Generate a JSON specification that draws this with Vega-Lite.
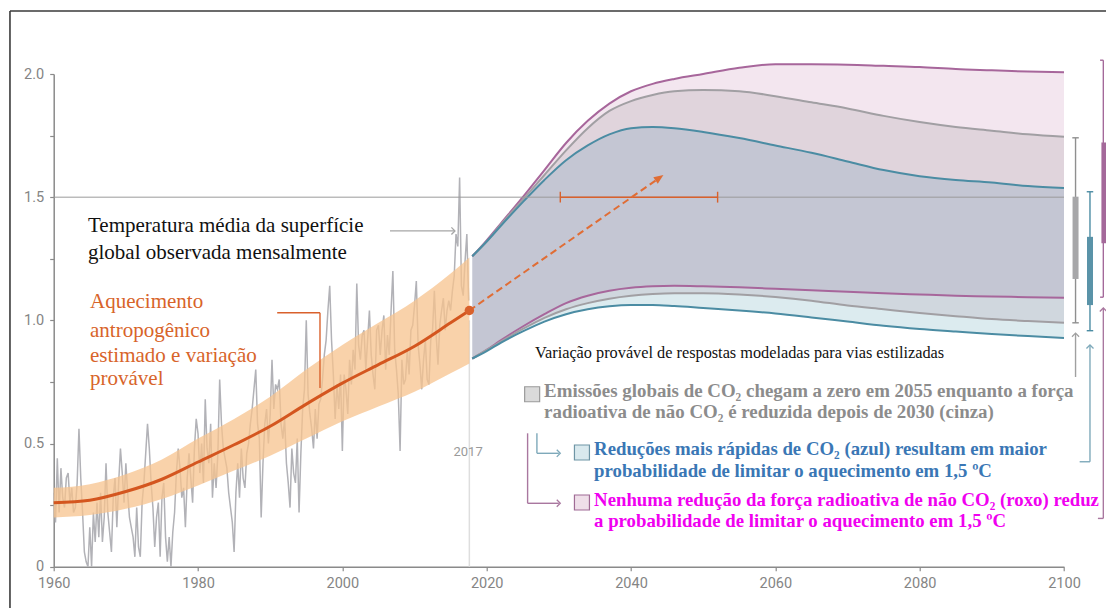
{
"$schema": "https://vega.github.io/schema/vega-lite/v6.json",
"width": 1010.3,
"height": 492.7,
"autosize": {"type": "none"},
"padding": {"left": 53.7, "top": 74, "right": 42, "bottom": 41.3},
"background": "white",
"config": {"view": {"stroke": null}},
"resolve": {"scale": {"color": "independent", "fill": "independent", "stroke": "independent", "shape": "independent"}},
"datasets": {
"obs": [
{"t":1960,"v":0.30},{"t":1960.25,"v":0.18},{"t":1960.5,"v":0.44},{"t":1960.75,"v":0.22},
{"t":1961,"v":0.40},{"t":1961.25,"v":0.28},{"t":1961.5,"v":0.24},{"t":1961.75,"v":0.36},
{"t":1962,"v":0.38},{"t":1962.25,"v":0.26},{"t":1962.5,"v":0.32},{"t":1962.75,"v":0.22},
{"t":1963,"v":0.24},{"t":1963.25,"v":0.34},{"t":1963.5,"v":0.56},{"t":1963.75,"v":0.36},
{"t":1964,"v":0.22},{"t":1964.25,"v":0.06},{"t":1964.5,"v":0.02},{"t":1964.75,"v":0.00},
{"t":1965,"v":0.16},{"t":1965.25,"v":0.00},{"t":1965.5,"v":0.22},{"t":1965.75,"v":0.10},
{"t":1966,"v":0.26},{"t":1966.25,"v":0.12},{"t":1966.5,"v":0.30},{"t":1966.75,"v":0.10},
{"t":1967,"v":0.20},{"t":1967.25,"v":0.42},{"t":1967.5,"v":0.22},{"t":1967.75,"v":0.14},
{"t":1968,"v":0.06},{"t":1968.25,"v":0.28},{"t":1968.5,"v":0.36},{"t":1968.75,"v":0.16},
{"t":1969,"v":0.34},{"t":1969.25,"v":0.48},{"t":1969.5,"v":0.38},{"t":1969.75,"v":0.26},
{"t":1970,"v":0.42},{"t":1970.25,"v":0.30},{"t":1970.5,"v":0.20},{"t":1970.75,"v":0.16},
{"t":1971,"v":0.12},{"t":1971.25,"v":0.04},{"t":1971.5,"v":0.24},{"t":1971.75,"v":0.08},
{"t":1972,"v":0.04},{"t":1972.25,"v":0.26},{"t":1972.5,"v":0.34},{"t":1972.75,"v":0.46},
{"t":1973,"v":0.58},{"t":1973.25,"v":0.48},{"t":1973.5,"v":0.34},{"t":1973.75,"v":0.24},
{"t":1974,"v":0.08},{"t":1974.25,"v":0.20},{"t":1974.5,"v":0.26},{"t":1974.75,"v":0.04},
{"t":1975,"v":0.28},{"t":1975.25,"v":0.34},{"t":1975.5,"v":0.12},{"t":1975.75,"v":0.02},
{"t":1976,"v":0.12},{"t":1976.25,"v":0.00},{"t":1976.5,"v":0.14},{"t":1976.75,"v":0.22},
{"t":1977,"v":0.38},{"t":1977.25,"v":0.48},{"t":1977.5,"v":0.40},{"t":1977.75,"v":0.28},
{"t":1978,"v":0.32},{"t":1978.25,"v":0.16},{"t":1978.5,"v":0.36},{"t":1978.75,"v":0.46},
{"t":1979,"v":0.36},{"t":1979.25,"v":0.26},{"t":1979.5,"v":0.48},{"t":1979.75,"v":0.60},
{"t":1980,"v":0.54},{"t":1980.25,"v":0.38},{"t":1980.5,"v":0.50},{"t":1980.75,"v":0.34},
{"t":1981,"v":0.68},{"t":1981.25,"v":0.48},{"t":1981.5,"v":0.42},{"t":1981.75,"v":0.58},
{"t":1982,"v":0.28},{"t":1982.25,"v":0.42},{"t":1982.5,"v":0.32},{"t":1982.75,"v":0.46},
{"t":1983,"v":0.76},{"t":1983.25,"v":0.58},{"t":1983.5,"v":0.48},{"t":1983.75,"v":0.44},
{"t":1984,"v":0.40},{"t":1984.25,"v":0.30},{"t":1984.5,"v":0.24},{"t":1984.75,"v":0.18},
{"t":1985,"v":0.06},{"t":1985.25,"v":0.30},{"t":1985.5,"v":0.42},{"t":1985.75,"v":0.28},
{"t":1986,"v":0.48},{"t":1986.25,"v":0.36},{"t":1986.5,"v":0.32},{"t":1986.75,"v":0.46},
{"t":1987,"v":0.50},{"t":1987.25,"v":0.58},{"t":1987.5,"v":0.64},{"t":1987.75,"v":0.72},
{"t":1988,"v":0.80},{"t":1988.25,"v":0.58},{"t":1988.5,"v":0.52},{"t":1988.75,"v":0.20},
{"t":1989,"v":0.42},{"t":1989.25,"v":0.58},{"t":1989.5,"v":0.64},{"t":1989.75,"v":0.50},
{"t":1990,"v":0.62},{"t":1990.25,"v":0.84},{"t":1990.5,"v":0.64},{"t":1990.75,"v":0.74},
{"t":1991,"v":0.72},{"t":1991.25,"v":0.76},{"t":1991.5,"v":0.58},{"t":1991.75,"v":0.52},
{"t":1992,"v":0.60},{"t":1992.25,"v":0.42},{"t":1992.5,"v":0.34},{"t":1992.75,"v":0.24},
{"t":1993,"v":0.48},{"t":1993.25,"v":0.38},{"t":1993.5,"v":0.34},{"t":1993.75,"v":0.52},
{"t":1994,"v":0.22},{"t":1994.25,"v":0.46},{"t":1994.5,"v":0.64},{"t":1994.75,"v":0.72},
{"t":1995,"v":1.00},{"t":1995.25,"v":0.70},{"t":1995.5,"v":0.62},{"t":1995.75,"v":0.56},
{"t":1996,"v":0.48},{"t":1996.25,"v":0.64},{"t":1996.5,"v":0.52},{"t":1996.75,"v":0.66},
{"t":1997,"v":0.68},{"t":1997.25,"v":0.76},{"t":1997.5,"v":0.86},{"t":1997.75,"v":0.92},
{"t":1998,"v":1.04},{"t":1998.25,"v":1.14},{"t":1998.5,"v":0.92},{"t":1998.75,"v":0.78},
{"t":1999,"v":0.60},{"t":1999.25,"v":0.74},{"t":1999.5,"v":0.64},{"t":1999.75,"v":0.78},
{"t":2000,"v":0.47},{"t":2000.25,"v":0.78},{"t":2000.5,"v":0.72},{"t":2000.75,"v":0.62},
{"t":2001,"v":0.84},{"t":2001.25,"v":0.74},{"t":2001.5,"v":0.88},{"t":2001.75,"v":0.80},
{"t":2002,"v":1.15},{"t":2002.25,"v":0.90},{"t":2002.5,"v":0.84},{"t":2002.75,"v":0.94},
{"t":2003,"v":0.96},{"t":2003.25,"v":0.80},{"t":2003.5,"v":0.92},{"t":2003.75,"v":1.04},
{"t":2004,"v":0.86},{"t":2004.25,"v":0.78},{"t":2004.5,"v":0.72},{"t":2004.75,"v":0.96},
{"t":2005,"v":0.98},{"t":2005.25,"v":0.86},{"t":2005.5,"v":0.96},{"t":2005.75,"v":1.02},
{"t":2006,"v":0.80},{"t":2006.25,"v":0.94},{"t":2006.5,"v":0.86},{"t":2006.75,"v":1.04},
{"t":2007,"v":1.20},{"t":2007.25,"v":0.88},{"t":2007.5,"v":0.80},{"t":2007.75,"v":0.70},
{"t":2008,"v":0.47},{"t":2008.25,"v":0.84},{"t":2008.5,"v":0.74},{"t":2008.75,"v":0.76},
{"t":2009,"v":0.88},{"t":2009.25,"v":0.78},{"t":2009.5,"v":0.96},{"t":2009.75,"v":0.98},
{"t":2010,"v":1.06},{"t":2010.25,"v":1.16},{"t":2010.5,"v":0.90},{"t":2010.75,"v":0.82},
{"t":2011,"v":0.72},{"t":2011.25,"v":0.84},{"t":2011.5,"v":0.92},{"t":2011.75,"v":0.76},
{"t":2012,"v":0.74},{"t":2012.25,"v":0.92},{"t":2012.5,"v":0.96},{"t":2012.75,"v":1.12},
{"t":2013,"v":0.94},{"t":2013.25,"v":0.82},{"t":2013.5,"v":0.98},{"t":2013.75,"v":1.04},
{"t":2014,"v":1.09},{"t":2014.25,"v":0.96},{"t":2014.5,"v":1.04},{"t":2014.75,"v":1.08},
{"t":2015,"v":1.04},{"t":2015.25,"v":1.12},{"t":2015.5,"v":1.18},{"t":2015.75,"v":1.35},
{"t":2016,"v":1.30},{"t":2016.25,"v":1.58},{"t":2016.5,"v":1.14},{"t":2016.75,"v":1.10},
{"t":2017,"v":1.24},{"t":2017.25,"v":1.35},{"t":2017.5,"v":1.08}
],
"band": [
{"t":1960,"lo":0.20,"mid":0.26,"hi":0.32},
{"t":1965,"lo":0.21,"mid":0.27,"hi":0.335},
{"t":1970,"lo":0.235,"mid":0.305,"hi":0.375},
{"t":1975,"lo":0.275,"mid":0.355,"hi":0.435},
{"t":1980,"lo":0.33,"mid":0.425,"hi":0.52},
{"t":1985,"lo":0.39,"mid":0.495,"hi":0.60},
{"t":1990,"lo":0.45,"mid":0.57,"hi":0.69},
{"t":1995,"lo":0.52,"mid":0.66,"hi":0.80},
{"t":2000,"lo":0.59,"mid":0.745,"hi":0.90},
{"t":2005,"lo":0.65,"mid":0.82,"hi":0.99},
{"t":2010,"lo":0.71,"mid":0.895,"hi":1.08},
{"t":2015,"lo":0.785,"mid":0.99,"hi":1.19},
{"t":2017.6,"lo":0.825,"mid":1.04,"hi":1.255}
],
"proj": [
{"t":2018,"pu":1.26,"gu":1.26,"bu":1.26,"pl":0.845,"gl":0.845,"bl":0.845},
{"t":2020,"pu":1.325,"gu":1.32,"bu":1.32,"pl":0.88,"gl":0.88,"bl":0.875},
{"t":2022,"pu":1.395,"gu":1.39,"bu":1.385,"pl":0.92,"gl":0.915,"bl":0.91},
{"t":2025,"pu":1.50,"gu":1.49,"bu":1.48,"pl":0.975,"gl":0.965,"bl":0.955},
{"t":2028,"pu":1.61,"gu":1.59,"bu":1.57,"pl":1.025,"gl":1.01,"bl":0.995},
{"t":2031,"pu":1.72,"gu":1.69,"bu":1.65,"pl":1.07,"gl":1.045,"bl":1.025},
{"t":2034,"pu":1.81,"gu":1.78,"bu":1.71,"pl":1.10,"gl":1.07,"bl":1.045},
{"t":2037,"pu":1.88,"gu":1.85,"bu":1.755,"pl":1.12,"gl":1.088,"bl":1.057},
{"t":2040,"pu":1.93,"gu":1.89,"bu":1.78,"pl":1.132,"gl":1.10,"bl":1.062},
{"t":2043,"pu":1.96,"gu":1.915,"bu":1.785,"pl":1.138,"gl":1.107,"bl":1.062},
{"t":2046,"pu":1.98,"gu":1.93,"bu":1.78,"pl":1.14,"gl":1.11,"bl":1.058},
{"t":2050,"pu":2.0,"gu":1.935,"bu":1.765,"pl":1.138,"gl":1.11,"bl":1.05},
{"t":2055,"pu":2.025,"gu":1.93,"bu":1.74,"pl":1.134,"gl":1.105,"bl":1.04},
{"t":2060,"pu":2.04,"gu":1.91,"bu":1.71,"pl":1.128,"gl":1.095,"bl":1.028},
{"t":2065,"pu":2.04,"gu":1.885,"bu":1.68,"pl":1.122,"gl":1.08,"bl":1.012},
{"t":2070,"pu":2.038,"gu":1.86,"bu":1.645,"pl":1.116,"gl":1.06,"bl":0.995},
{"t":2075,"pu":2.033,"gu":1.83,"bu":1.61,"pl":1.11,"gl":1.045,"bl":0.978},
{"t":2080,"pu":2.028,"gu":1.805,"bu":1.585,"pl":1.105,"gl":1.03,"bl":0.965},
{"t":2085,"pu":2.02,"gu":1.785,"bu":1.57,"pl":1.10,"gl":1.017,"bl":0.955},
{"t":2090,"pu":2.015,"gu":1.77,"bu":1.56,"pl":1.097,"gl":1.005,"bl":0.945},
{"t":2095,"pu":2.01,"gu":1.755,"bu":1.545,"pl":1.094,"gl":0.997,"bl":0.936},
{"t":2100,"pu":2.007,"gu":1.745,"bu":1.537,"pl":1.092,"gl":0.99,"bl":0.928}
],
"seg": [
{"k":"gA","x":2006.6,"y":1.363,"x2":2015.5,"y2":1.363},
{"k":"gC","x":2101.6,"y":0.770,"x2":2101.6,"y2":0.945},
{"k":"bC","x":2026.96,"y":0.5415,"x2":2026.96,"y2":0.4603},
{"k":"bC","x":2026.96,"y":0.4603,"x2":2030.0,"y2":0.4603},
{"k":"bC","x":2103.6,"y":0.426,"x2":2103.6,"y2":0.897},
{"k":"bC","x":2102.17,"y":0.426,"x2":2103.6,"y2":0.426},
{"k":"pC","x":2025.67,"y":0.5415,"x2":2025.67,"y2":0.2574},
{"k":"pC","x":2025.67,"y":0.2574,"x2":2030.0,"y2":0.2574},
{"k":"pC","x":2105.45,"y":0.196,"x2":2105.45,"y2":1.047},
{"k":"pC","x":2104.7,"y":0.196,"x2":2105.45,"y2":0.196},
{"k":"or","x":1990.97,"y":1.031,"x2":1996.9,"y2":1.031},
{"k":"or","x":1996.9,"y":1.031,"x2":1996.9,"y2":0.725},
{"k":"or","x":2030.2,"y":1.5,"x2":2052.0,"y2":1.5},
{"k":"or","x":2030.2,"y":1.478,"x2":2030.2,"y2":1.522},
{"k":"or","x":2052.0,"y":1.478,"x2":2052.0,"y2":1.522},
{"k":"gW","x":2101.6,"y":0.99,"x2":2101.6,"y2":1.741},
{"k":"gW","x":2101.15,"y":0.99,"x2":2102.05,"y2":0.99},
{"k":"gW","x":2101.15,"y":1.741,"x2":2102.05,"y2":1.741},
{"k":"bW","x":2103.6,"y":0.958,"x2":2103.6,"y2":1.522},
{"k":"bW","x":2103.15,"y":0.958,"x2":2104.05,"y2":0.958},
{"k":"bW","x":2103.15,"y":1.522,"x2":2104.05,"y2":1.522},
{"k":"pW","x":2105.45,"y":1.094,"x2":2105.45,"y2":2.056},
{"k":"pW","x":2105.0,"y":1.094,"x2":2105.45,"y2":1.094},
{"k":"pW","x":2105.0,"y":2.056,"x2":2105.45,"y2":2.056}
],
"boxes": [
{"k":"g","x":2101.6,"y":1.168,"y2":1.502},
{"k":"b","x":2103.6,"y":1.062,"y2":1.339},
{"k":"p","x":2105.6,"y":1.313,"y2":1.722}
],
"heads": [
{"k":"gA","d":"right","x":2015.6,"y":1.363},
{"k":"gC","d":"up","x":2101.6,"y":0.948},
{"k":"bC","d":"up","x":2103.6,"y":0.900},
{"k":"pC","d":"up","x":2105.45,"y":1.050},
{"k":"bC","d":"right","x":2030.2,"y":0.4603},
{"k":"pC","d":"right","x":2030.2,"y":0.2574}
],
"sq": [
{"k":"g","x":2026.3,"y":0.70},
{"k":"b","x":2033.2,"y":0.4636},
{"k":"p","x":2033.2,"y":0.2606}
],
"ann": [
{"st":"blk","x":1964.75,"y":1.360,"txt":"Temperatura média da superfície"},
{"st":"blk","x":1964.75,"y":1.248,"txt":"global observada mensalmente"},
{"st":"org","x":1965.03,"y":1.049,"txt":"Aquecimento"},
{"st":"org","x":1965.03,"y":0.934,"txt":"antropogênico"},
{"st":"org","x":1965.03,"y":0.832,"txt":"estimado e variação"},
{"st":"org","x":1965.03,"y":0.738,"txt":"provável"},
{"st":"var","x":2026.7,"y":0.847,"txt":"Variação provável de respostas modeladas para vias estilizadas"},
{"st":"gry","x":2027.95,"y":0.690,"txt":"Emissões globais de CO₂ chegam a zero em 2055 enquanto a força"},
{"st":"gry","x":2027.95,"y":0.602,"txt":"radioativa de não CO₂ é reduzida depois de 2030 (cinza)"},
{"st":"blu","x":2034.88,"y":0.453,"txt":"Reduções mais rápidas de CO₂ (azul) resultam em maior"},
{"st":"blu","x":2034.88,"y":0.365,"txt":"probabilidade de limitar o aquecimento em 1,5 ºC"},
{"st":"mag","x":2034.88,"y":0.246,"txt":"Nenhuma redução da força radioativa de não CO₂ (roxo) reduz"},
{"st":"mag","x":2034.88,"y":0.162,"txt":"a probabilidade de limitar o aquecimento em 1,5 ºC"},
{"st":"yr","x":2017.42,"y":0.466,"txt":"2017"}
]
},
"layer": [
{
"data": {"values": [
{"x":1953.94,"y":2.2557,"x2":2108,"y2":2.2557},
{"x":1953.94,"y":2.2557,"x2":1953.94,"y2":-0.2}
]},
"mark": {"type": "rule", "color": "#3a3a3a", "strokeWidth": 1.6},
"encoding": {
"x": {"field": "x", "type": "quantitative", "scale": {"domain": [1960, 2100], "nice": false, "zero": false},
"axis": {"title": null, "values": [1960,1980,2000,2020,2040,2060,2080,2100], "format": "d", "grid": false,
"domainColor": "#8a8a8a", "domainWidth": 1.5, "tickColor": "#8a8a8a", "tickWidth": 1.2, "tickSize": 4,
"labelPadding": 6, "labelFont": "Roboto", "labelFontSize": 14.5, "labelColor": "#858585", "labelFlush": false}},
"y": {"field": "y", "type": "quantitative", "scale": {"domain": [0, 2], "nice": false, "zero": false},
"axis": {"title": null, "values": [0,0.25,0.5,0.75,1,1.25,1.5,1.75,2],
"labelExpr": "datum.value == 0 ? '0' : (datum.value * 2 == floor(datum.value * 2) ? format(datum.value, '.1f') : '')",
"grid": false, "domainColor": "#8a8a8a", "domainWidth": 1.5, "tickColor": "#8a8a8a", "tickWidth": 1.2, "tickSize": 4,
"labelPadding": 6, "labelFont": "Roboto", "labelFontSize": 14.5, "labelColor": "#858585"}},
"x2": {"field": "x2"},
"y2": {"field": "y2"}
}
},
{
"data": {"values": [{"x": 2017.6, "y": 0, "y2": 1.0}]},
"mark": {"type": "rule", "color": "#dedede", "strokeWidth": 1.5},
"encoding": {"x": {"field": "x", "type": "quantitative"}, "y": {"field": "y", "type": "quantitative"}, "y2": {"field": "y2"}}
},
{
"data": {"name": "obs"},
"mark": {"type": "line", "color": "#b2b2b7", "strokeWidth": 1.5},
"encoding": {"x": {"field": "t", "type": "quantitative"}, "y": {"field": "v", "type": "quantitative"}}
},
{
"data": {"name": "band"},
"mark": {"type": "area", "color": "#f7c38d", "opacity": 0.75, "interpolate": "monotone"},
"encoding": {"x": {"field": "t", "type": "quantitative"}, "y": {"field": "lo", "type": "quantitative"}, "y2": {"field": "hi"}}
},
{
"data": {"name": "band"},
"mark": {"type": "line", "color": "#d4561f", "strokeWidth": 3, "interpolate": "monotone"},
"encoding": {"x": {"field": "t", "type": "quantitative"}, "y": {"field": "mid", "type": "quantitative"}}
},
{
"data": {"name": "proj"},
"mark": {"type": "area", "color": "#f3e6ef", "interpolate": "monotone"},
"encoding": {"x": {"field": "t", "type": "quantitative"}, "y": {"field": "gu", "type": "quantitative"}, "y2": {"field": "pu"}}
},
{
"data": {"name": "proj"},
"mark": {"type": "area", "color": "#e0d4dc", "interpolate": "monotone"},
"encoding": {"x": {"field": "t", "type": "quantitative"}, "y": {"field": "bu", "type": "quantitative"}, "y2": {"field": "gu"}}
},
{
"data": {"name": "proj"},
"mark": {"type": "area", "color": "#c4c6d3", "interpolate": "monotone"},
"encoding": {"x": {"field": "t", "type": "quantitative"}, "y": {"field": "pl", "type": "quantitative"}, "y2": {"field": "bu"}}
},
{
"data": {"name": "proj"},
"mark": {"type": "area", "color": "#d0d7de", "interpolate": "monotone"},
"encoding": {"x": {"field": "t", "type": "quantitative"}, "y": {"field": "gl", "type": "quantitative"}, "y2": {"field": "pl"}}
},
{
"data": {"name": "proj"},
"mark": {"type": "area", "color": "#dcebef", "interpolate": "monotone"},
"encoding": {"x": {"field": "t", "type": "quantitative"}, "y": {"field": "bl", "type": "quantitative"}, "y2": {"field": "gl"}}
},
{
"data": {"name": "proj"},
"transform": [{"fold": ["pu", "pl", "gu", "gl", "bu", "bl"], "as": ["key", "val"]}],
"mark": {"type": "line", "strokeWidth": 2, "interpolate": "monotone"},
"encoding": {
"x": {"field": "t", "type": "quantitative"},
"y": {"field": "val", "type": "quantitative"},
"color": {"field": "key", "type": "nominal", "legend": null,
"scale": {"domain": ["pu", "pl", "gu", "gl", "bu", "bl"], "range": ["#a7669b", "#a7669b", "#a19fa3", "#a19fa3", "#4b8ca3", "#4b8ca3"]}}
}
},
{
"data": {"values": [{"x": 1960, "x2": 2100, "y": 1.5}]},
"mark": {"type": "rule", "color": "#9b9b9b", "strokeWidth": 1},
"encoding": {"x": {"field": "x", "type": "quantitative"}, "x2": {"field": "x2"}, "y": {"field": "y", "type": "quantitative"}}
},
{
"data": {"name": "seg"},
"mark": {"type": "rule", "strokeWidth": 1.4},
"encoding": {
"x": {"field": "x", "type": "quantitative"},
"y": {"field": "y", "type": "quantitative"},
"x2": {"field": "x2"}, "y2": {"field": "y2"},
"color": {"field": "k", "type": "nominal", "legend": null,
"scale": {"domain": ["gA", "gC", "bC", "pC", "or", "gW", "bW", "pW"], "range": ["#a6a6a6", "#a0a0a0", "#7ea9ba", "#a9779f", "#d9612c", "#8f8f8f", "#4b8ca3", "#a4699a"]}}
}
},
{
"data": {"name": "boxes"},
"mark": {"type": "rule", "strokeWidth": 6},
"encoding": {
"x": {"field": "x", "type": "quantitative"},
"y": {"field": "y", "type": "quantitative"},
"y2": {"field": "y2"},
"color": {"field": "k", "type": "nominal", "legend": null,
"scale": {"domain": ["g", "b", "p"], "range": ["#a7a7a9", "#5a93a8", "#a4699a"]}}
}
},
{
"data": {"name": "heads"},
"mark": {"type": "point", "filled": false, "size": 50, "strokeWidth": 1.3, "opacity": 1},
"encoding": {
"x": {"field": "x", "type": "quantitative"},
"y": {"field": "y", "type": "quantitative"},
"shape": {"field": "d", "type": "nominal", "legend": null,
"scale": {"domain": ["up", "right"], "range": ["M-1,1L0,0L1,1", "M-1,-1L0,0L-1,1"]}},
"color": {"field": "k", "type": "nominal", "legend": null,
"scale": {"domain": ["gA", "gC", "bC", "pC"], "range": ["#a6a6a6", "#a0a0a0", "#7ea9ba", "#a9779f"]}}
}
},
{
"data": {"values": [{"x": 2017.6, "y": 1.04, "x2": 2043.81, "y2": 1.576}]},
"mark": {"type": "rule", "color": "#e06d35", "strokeWidth": 2, "strokeDash": [7, 4]},
"encoding": {"x": {"field": "x", "type": "quantitative"}, "y": {"field": "y", "type": "quantitative"}, "x2": {"field": "x2"}, "y2": {"field": "y2"}}
},
{
"data": {"values": [{"x": 2044.49, "y": 1.590}]},
"mark": {"type": "point", "shape": "M0,0L-1.6,0.65L-1.6,-0.65Z", "angle": 325, "size": 144, "filled": true, "color": "#e06d35", "opacity": 1},
"encoding": {"x": {"field": "x", "type": "quantitative"}, "y": {"field": "y", "type": "quantitative"}}
},
{
"data": {"values": [{"x": 2017.6, "y": 1.04}]},
"mark": {"type": "point", "shape": "circle", "size": 90, "filled": true, "color": "#d9612c", "opacity": 1},
"encoding": {"x": {"field": "x", "type": "quantitative"}, "y": {"field": "y", "type": "quantitative"}}
},
{
"data": {"name": "sq"},
"mark": {"type": "point", "shape": "square", "size": 225, "filled": true, "strokeWidth": 1.2, "opacity": 1},
"encoding": {
"x": {"field": "x", "type": "quantitative"},
"y": {"field": "y", "type": "quantitative"},
"fill": {"field": "k", "type": "nominal", "legend": null, "scale": {"domain": ["g", "b", "p"], "range": ["#dadada", "#d9e9ee", "#efdfe9"]}},
"stroke": {"field": "k", "type": "nominal", "legend": null, "scale": {"domain": ["g", "b", "p"], "range": ["#9a9a9a", "#6e95a5", "#a06b95"]}}
}
},
{
"data": {"name": "ann"},
"transform": [{"filter": {"field": "st", "equal": "blk"}}],
"mark": {"type": "text", "align": "left", "baseline": "alphabetic", "font": "Liberation Serif", "fontSize": 21, "color": "#111111"},
"encoding": {"x": {"field": "x", "type": "quantitative"}, "y": {"field": "y", "type": "quantitative"}, "text": {"field": "txt"}}
},
{
"data": {"name": "ann"},
"transform": [{"filter": {"field": "st", "equal": "org"}}],
"mark": {"type": "text", "align": "left", "baseline": "alphabetic", "font": "Liberation Serif", "fontSize": 21, "color": "#d8642a"},
"encoding": {"x": {"field": "x", "type": "quantitative"}, "y": {"field": "y", "type": "quantitative"}, "text": {"field": "txt"}}
},
{
"data": {"name": "ann"},
"transform": [{"filter": {"field": "st", "equal": "var"}}],
"mark": {"type": "text", "align": "left", "baseline": "alphabetic", "font": "Liberation Serif", "fontSize": 16.3, "color": "#111111"},
"encoding": {"x": {"field": "x", "type": "quantitative"}, "y": {"field": "y", "type": "quantitative"}, "text": {"field": "txt"}}
},
{
"data": {"name": "ann"},
"transform": [{"filter": {"field": "st", "equal": "gry"}}],
"mark": {"type": "text", "align": "left", "baseline": "alphabetic", "font": "Liberation Serif", "fontWeight": "bold", "fontSize": 18.9, "color": "#8c8c8c"},
"encoding": {"x": {"field": "x", "type": "quantitative"}, "y": {"field": "y", "type": "quantitative"}, "text": {"field": "txt"}}
},
{
"data": {"name": "ann"},
"transform": [{"filter": {"field": "st", "equal": "blu"}}],
"mark": {"type": "text", "align": "left", "baseline": "alphabetic", "font": "Liberation Serif", "fontWeight": "bold", "fontSize": 18.8, "color": "#3a77b5"},
"encoding": {"x": {"field": "x", "type": "quantitative"}, "y": {"field": "y", "type": "quantitative"}, "text": {"field": "txt"}}
},
{
"data": {"name": "ann"},
"transform": [{"filter": {"field": "st", "equal": "mag"}}],
"mark": {"type": "text", "align": "left", "baseline": "alphabetic", "font": "Liberation Serif", "fontWeight": "bold", "fontSize": 18.8, "color": "#f000f0"},
"encoding": {"x": {"field": "x", "type": "quantitative"}, "y": {"field": "y", "type": "quantitative"}, "text": {"field": "txt"}}
},
{
"data": {"name": "ann"},
"transform": [{"filter": {"field": "st", "equal": "yr"}}],
"mark": {"type": "text", "align": "center", "baseline": "middle", "font": "Roboto", "fontSize": 13, "color": "#9a9a9a"},
"encoding": {"x": {"field": "x", "type": "quantitative"}, "y": {"field": "y", "type": "quantitative"}, "text": {"field": "txt"}}
}
]
}
